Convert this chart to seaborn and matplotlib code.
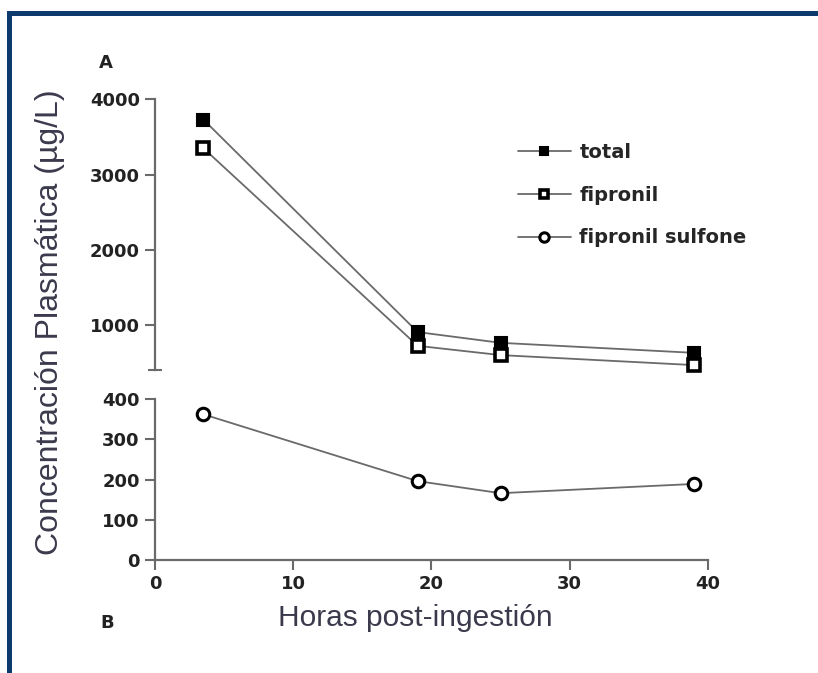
import matplotlib
matplotlib.use("Agg")
import seaborn as sns
import matplotlib.pyplot as plt
from matplotlib.patches import Rectangle


# values
hours = [3.5, 19, 25, 39]
total = [3730, 906, 763, 630]
fipronil = [3350, 723, 600, 467]
sulfone = [362, 196, 166, 189]

top_ticks = [1000, 2000, 3000, 4000]
bottom_ticks = [0, 100, 200, 300, 400]
x_ticks = [0, 10, 20, 30, 40]

LINE = "#6a6a6a"
AXIS = "#6a6a6a"
LABEL = "#3a3a4c"
BORDER = "#0d3b6e"


def style_axis(ax, yticks, ylim, show_x):
    ax.set_xlim(0, 40)
    ax.set_ylim(*ylim)
    ax.set_yticks(yticks)
    for side in ["top", "right"]:
        ax.spines[side].set_visible(False)
    for side in ["left", "bottom"]:
        ax.spines[side].set_color(AXIS)
        ax.spines[side].set_linewidth(1.6)
    ax.tick_params(axis="y", left=True, direction="out", length=7, width=1.5,
                   color=AXIS, labelsize=13, pad=4, labelcolor="#222222")
    if show_x:
        ax.set_xticks(x_ticks)
        ax.tick_params(axis="x", bottom=True, direction="out", length=7,
                       width=1.5, color=AXIS, labelsize=13, pad=4,
                       labelcolor="#222222")
        for lab in ax.get_xticklabels():
            lab.set_fontweight("bold")
    else:
        ax.spines["bottom"].set_visible(False)
        ax.set_xticks([])
    for lab in ax.get_yticklabels():
        lab.set_fontweight("bold")
    ax.set_xlabel("")
    ax.set_ylabel("")
    ax.patch.set_alpha(0)


def plot_lines(fig):
    ax_top = fig.add_axes([0.1895, 0.4500, 0.676, 0.4025])
    ax_bot = fig.add_axes([0.1895, 0.1679, 0.676, 0.2392])

    common = dict(color=LINE, linewidth=1.3, markeredgecolor="black",
                  clip_on=False, legend=False)
    sns.lineplot(x=hours, y=total, ax=ax_top, marker="s", markersize=8.5,
                 markerfacecolor="black", markeredgewidth=1.5,
                 label="total", **common)
    sns.lineplot(x=hours, y=fipronil, ax=ax_top, marker="s", markersize=8.5,
                 markerfacecolor="white", markeredgewidth=2.6,
                 label="fipronil", **common)
    sns.lineplot(x=hours, y=sulfone, ax=ax_bot, marker="o", markersize=9,
                 markerfacecolor="white", markeredgewidth=2.2,
                 label="fipronil sulfone", **common)

    style_axis(ax_top, top_ticks, (400, 4000), show_x=False)
    style_axis(ax_bot, bottom_ticks, (0, 400), show_x=True)

    # break marks at the axis ends
    ax_top.set_yticks([400, 4000], minor=True)
    ax_top.tick_params(axis="y", which="minor", left=True, direction="inout",
                       length=10, width=1.5, color=AXIS)
    ax_bot.set_yticks([400], minor=True)
    ax_bot.tick_params(axis="y", which="minor", left=True, direction="inout",
                       length=10, width=1.5, color=AXIS)

    h1, l1 = ax_top.get_legend_handles_labels()
    h2, l2 = ax_bot.get_legend_handles_labels()
    fig.legend(h1 + h2, l1 + l2, loc="upper left",
               bbox_to_anchor=(518 / 818, 1 - 143 / 673), frameon=False,
               borderpad=0, borderaxespad=0, handlelength=2.7,
               handletextpad=0.45, labelspacing=1.22, markerscale=0.75,
               prop=dict(size=14, weight="bold"))
    return ax_top, ax_bot


def main():
    sns.set_style("white")
    plt.rcParams["font.family"] = ["DejaVu Sans"]
    fig = plt.figure(figsize=(8.18, 6.73), dpi=100)
    fig.patch.set_facecolor("white")

    plot_lines(fig)

    fig.text(50 / 818, 1 - 322 / 673, "Concentración Plasmática (µg/L)",
             rotation=90, ha="center", va="center", fontsize=23,
             family="Liberation Sans", color=LABEL)
    fig.text(415 / 818, 1 - 618 / 673, "Horas post-ingestión",
             ha="center", va="center", fontsize=21.5,
             family="Liberation Sans", color=LABEL)
    fig.text(106 / 818, 1 - 63 / 673, "A", ha="center", va="center",
             fontsize=13, fontweight="bold", color="#222222")
    fig.text(107 / 818, 1 - 623 / 673, "B", ha="center", va="center",
             fontsize=13, fontweight="bold", color="#222222")

    # dark blue frame on the top and left edges
    fig.add_artist(Rectangle((8 / 818, 1 - 16 / 673), 1, 5 / 673,
                             transform=fig.transFigure, color=BORDER, lw=0))
    fig.add_artist(Rectangle((7 / 818, 0), 5 / 818, 1 - 11 / 673,
                             transform=fig.transFigure, color=BORDER, lw=0))

    fig.savefig("out.png", dpi=100)


if __name__ == "__main__":
    main()
